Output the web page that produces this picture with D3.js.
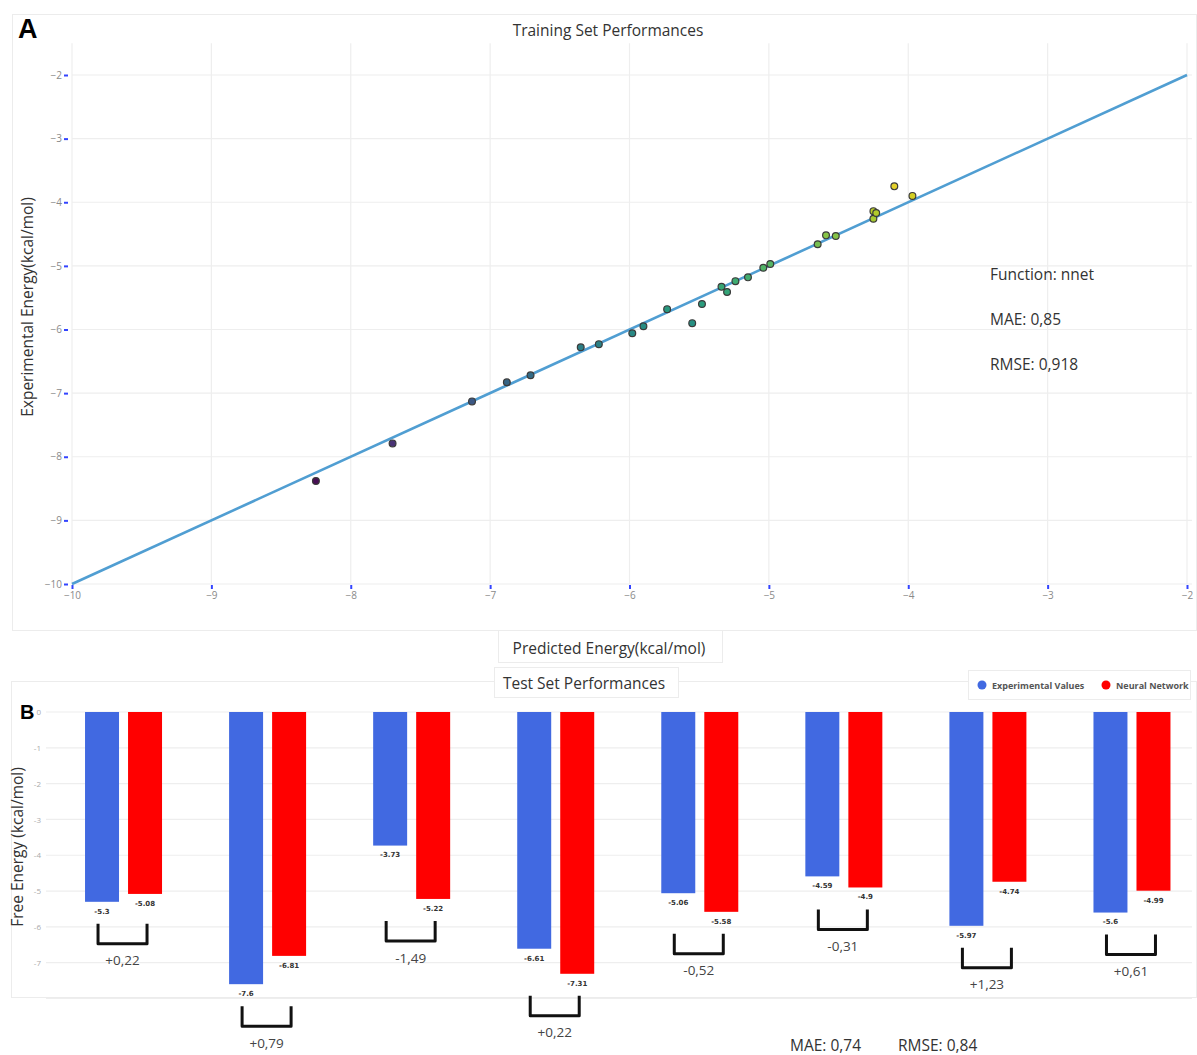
<!DOCTYPE html>
<html><head><meta charset="utf-8">
<script src="https://cdn.jsdelivr.net/npm/d3@7"></script>
<style>body{margin:0;background:#fff;} svg{display:block;font-family:"Open Sans",sans-serif;}</style>
</head><body><svg id="c" width="1197" height="1055"></svg>
<script>
// ---- Panel A data (training set) ----
const predicted    = [-8.25,-7.70,-7.13,-6.88,-6.71,-6.35,-6.22,-5.98,-5.90,-5.73,-5.55,-5.48,-5.34,-5.30,-5.24,-5.15,-5.04,-4.99,-4.65,-4.59,-4.52,-4.25,-4.25,-4.23,-4.10,-3.97];
const experimental = [-8.38,-7.79,-7.13,-6.83,-6.72,-6.28,-6.23,-6.06,-5.95,-5.68,-5.90,-5.60,-5.33,-5.41,-5.24,-5.18,-5.03,-4.97,-4.66,-4.52,-4.53,-4.26,-4.14,-4.17,-3.75,-3.90];
const fitLine = [-10, -2];
const scatterXTicks = [-10,-9,-8,-7,-6,-5,-4,-3,-2];
const scatterYTicks = [-2,-3,-4,-5,-6,-7,-8,-9,-10];
const trainStats = ["Function: nnet", "MAE: 0,85", "RMSE: 0,918"];

// ---- Panel B data (test set) ----
const compounds = ["1","2","3","4","5","6","7","8"];
const experimentalValues  = [-5.3,-7.6,-3.73,-6.61,-5.06,-4.59,-5.97,-5.6];
const neuralNetworkValues = [-5.08,-6.81,-5.22,-7.31,-5.58,-4.9,-4.74,-4.99];
const differenceLabels = ["+0,22","+0,79","-1,49","+0,22","-0,52","-0,31","+1,23","+0,61"];
const barYTicks = [0,-1,-2,-3,-4,-5,-6,-7,-8];
const seriesNames = ["Experimental Values","Neural Network"];
const testStats = ["MAE: 0,74","RMSE: 0,84"];

const svg = d3.select("#c");
const faint = "#ececec";

// ================= PANEL A =================
svg.append("rect").attr("x",12.5).attr("y",14.5).attr("width",1184).attr("height",616)
  .attr("fill","none").attr("stroke",faint);
svg.append("rect").attr("x",498.5).attr("y",630.5).attr("width",224).attr("height",32)
  .attr("fill","#fff").attr("stroke",faint);

const x = d3.scaleLinear().domain([-10,-2]).range([72,1187]);
const y = d3.scaleLinear().domain([-10,-2]).range([584,75]);

const gA = svg.append("g");
gA.selectAll("line.vg").data(scatterXTicks).join("line")
  .attr("x1",d=>x(d)).attr("x2",d=>x(d)).attr("y1",y(-1.5)).attr("y2",y(-10))
  .attr("stroke","#eeeeee").attr("stroke-width",1.2);
gA.selectAll("line.hg").data(scatterYTicks).join("line")
  .attr("x1",x(-10)).attr("x2",1192).attr("y1",d=>y(d)).attr("y2",d=>y(d))
  .attr("stroke","#eeeeee").attr("stroke-width",1.2);

const ax = gA.append("g").attr("transform","translate(0,585)")
  .call(d3.axisBottom(x).tickValues(scatterXTicks).tickSize(4).tickPadding(3));
const ay = gA.append("g").attr("transform","translate(68,0)")
  .call(d3.axisLeft(y).tickValues(scatterYTicks).tickSize(4).tickPadding(2));
[ax,ay].forEach(a=>{
  a.select(".domain").remove();
  a.selectAll(".tick line").attr("stroke","#3344ff").attr("stroke-width",2);
  a.selectAll(".tick text").attr("fill","#8a8a8a").attr("font-size",10).attr("font-family","'Open Sans',sans-serif");
});

gA.append("line").attr("x1",x(fitLine[0])).attr("y1",y(fitLine[0]))
  .attr("x2",x(fitLine[1])).attr("y2",y(fitLine[1]))
  .attr("stroke","#509ed2").attr("stroke-width",2.6);

const cScale = d3.scaleSequential(d3.interpolateViridis).domain(d3.extent(experimental));
gA.selectAll("circle.pt").data(predicted.map((p,i)=>({p,e:experimental[i]}))).join("circle")
  .attr("cx",d=>x(d.p)).attr("cy",d=>y(d.e)).attr("r",3.4)
  .attr("fill",d=>d3.interpolateRgb(cScale(d.e),"#555")(0.15)).attr("stroke","#3a3a3a").attr("stroke-width",1.2);

svg.append("text").attr("x",18).attr("y",38).text("A")
  .attr("font-family","'Liberation Sans',Arial,sans-serif").attr("font-weight","bold").attr("font-size",27).attr("fill","#000");
svg.append("text").attr("x",608).attr("y",36).attr("text-anchor","middle")
  .attr("font-size",15.5).attr("fill","#333").text("Training Set Performances");
svg.append("text").attr("transform","translate(33,307) rotate(-90)").attr("text-anchor","middle")
  .attr("font-size",15.5).attr("fill","#333").text("Experimental Energy(kcal/mol)");
svg.append("text").attr("x",609).attr("y",654).attr("text-anchor","middle")
  .attr("font-size",15.5).attr("fill","#333").text("Predicted Energy(kcal/mol)");
svg.selectAll("text.stat").data(trainStats).join("text")
  .attr("x",990).attr("y",(d,i)=>280+i*45).attr("font-size",15.5).attr("fill","#333").text(d=>d);

// ================= PANEL B =================
svg.append("rect").attr("x",11.5).attr("y",681.5).attr("width",1185).attr("height",316)
  .attr("fill","none").attr("stroke",faint);
svg.append("rect").attr("x",494.5).attr("y",667.5).attr("width",184).attr("height",30)
  .attr("fill","#fff").attr("stroke",faint);

const yb = d3.scaleLinear().domain([-8,0]).range([998.5,712]);
const x0 = d3.scaleBand().domain(compounds).range([51.5,1204]).paddingInner(0.4655).paddingOuter(0.23275);
const x1 = d3.scaleBand().domain(["exp","nn"]).range([0,x0.bandwidth()]).paddingInner(0.21);
const colors = {exp:"#4169e1", nn:"#ff0000"};

const gB = svg.append("g");
gB.selectAll("line.bg").data(barYTicks).join("line")
  .attr("x1",46).attr("x2",1192).attr("y1",d=>yb(d)).attr("y2",d=>yb(d))
  .attr("stroke","#eeeeee").attr("stroke-width",1.2);

svg.append("clipPath").attr("id","clipB").append("rect").attr("x",-60).attr("y",690).attr("width",70).attr("height",307);
const ayb = gB.append("g").attr("transform","translate(44,0)").attr("clip-path","url(#clipB)")
  .call(d3.axisLeft(yb).tickValues(barYTicks).tickSize(0).tickPadding(3).tickFormat(d=>String(d)));
ayb.select(".domain").remove();
ayb.selectAll(".tick text").attr("fill","#aaaaaa").attr("font-size",8).attr("font-family","'Open Sans',sans-serif");

const rows = compounds.map((c,i)=>({c,i,exp:experimentalValues[i],nn:neuralNetworkValues[i]}));
const bars = rows.flatMap(r=>["exp","nn"].map(k=>({c:r.c,k,v:r[k]})));

gB.selectAll("rect.bar").data(bars).join("rect")
  .attr("x",d=>x0(d.c)+x1(d.k)).attr("width",x1.bandwidth())
  .attr("y",yb(0)).attr("height",d=>yb(d.v)-yb(0))
  .attr("fill",d=>colors[d.k]);

gB.selectAll("text.vl").data(bars).join("text")
  .attr("x",d=>x0(d.c)+x1(d.k)+x1.bandwidth()/2).attr("y",d=>yb(d.v)+10)
  .attr("text-anchor","middle").attr("dominant-baseline","middle")
  .attr("font-family","'DejaVu Sans',sans-serif").attr("font-weight","bold").attr("font-size",7)
  .attr("fill","#333").text(d=>String(d.v));

const bw = 49, bh = 20;
rows.forEach(r=>{
  const cx = x0(r.c)+x0.bandwidth()/2 - 1;
  const top = yb(Math.min(r.exp,r.nn)) + 22;
  gB.append("path")
    .attr("d",`M${cx-bw/2},${top}V${top+bh}H${cx+bw/2}V${top}`)
    .attr("fill","none").attr("stroke","#111").attr("stroke-width",3).attr("stroke-linejoin","round");
  gB.append("text").attr("x",cx).attr("y",top+bh+18).attr("text-anchor","middle")
    .attr("dominant-baseline","middle").attr("font-size",13.5).attr("fill","#444").text(differenceLabels[r.i]);
});

svg.append("text").attr("x",20).attr("y",719).text("B")
  .attr("font-family","'Liberation Sans',Arial,sans-serif").attr("font-weight","bold").attr("font-size",20).attr("fill","#000");
svg.append("text").attr("x",584).attr("y",689).attr("text-anchor","middle")
  .attr("font-size",15.5).attr("fill","#333").text("Test Set Performances");
svg.append("text").attr("transform","translate(23,847) rotate(-90)").attr("text-anchor","middle")
  .attr("font-size",15.5).attr("fill","#333").text("Free Energy (kcal/mol)");

const lg = svg.append("g");
lg.append("rect").attr("x",968.5).attr("y",670.5).attr("width",222).attr("height",29).attr("fill","#fff").attr("stroke",faint);
const legX = [982, 1106];
seriesNames.forEach((n,i)=>{
  lg.append("circle").attr("cx",legX[i]).attr("cy",685).attr("r",4.5).attr("fill",i?colors.nn:colors.exp);
  lg.append("text").attr("x",legX[i]+10).attr("y",688.5).attr("font-size",9).attr("font-weight","bold")
    .attr("fill","#555").text(n);
});

svg.selectAll("text.ts").data(testStats).join("text")
  .attr("x",(d,i)=>[790,898][i]).attr("y",1051).attr("font-size",15.5).attr("fill","#333").text(d=>d);
</script></body></html>
